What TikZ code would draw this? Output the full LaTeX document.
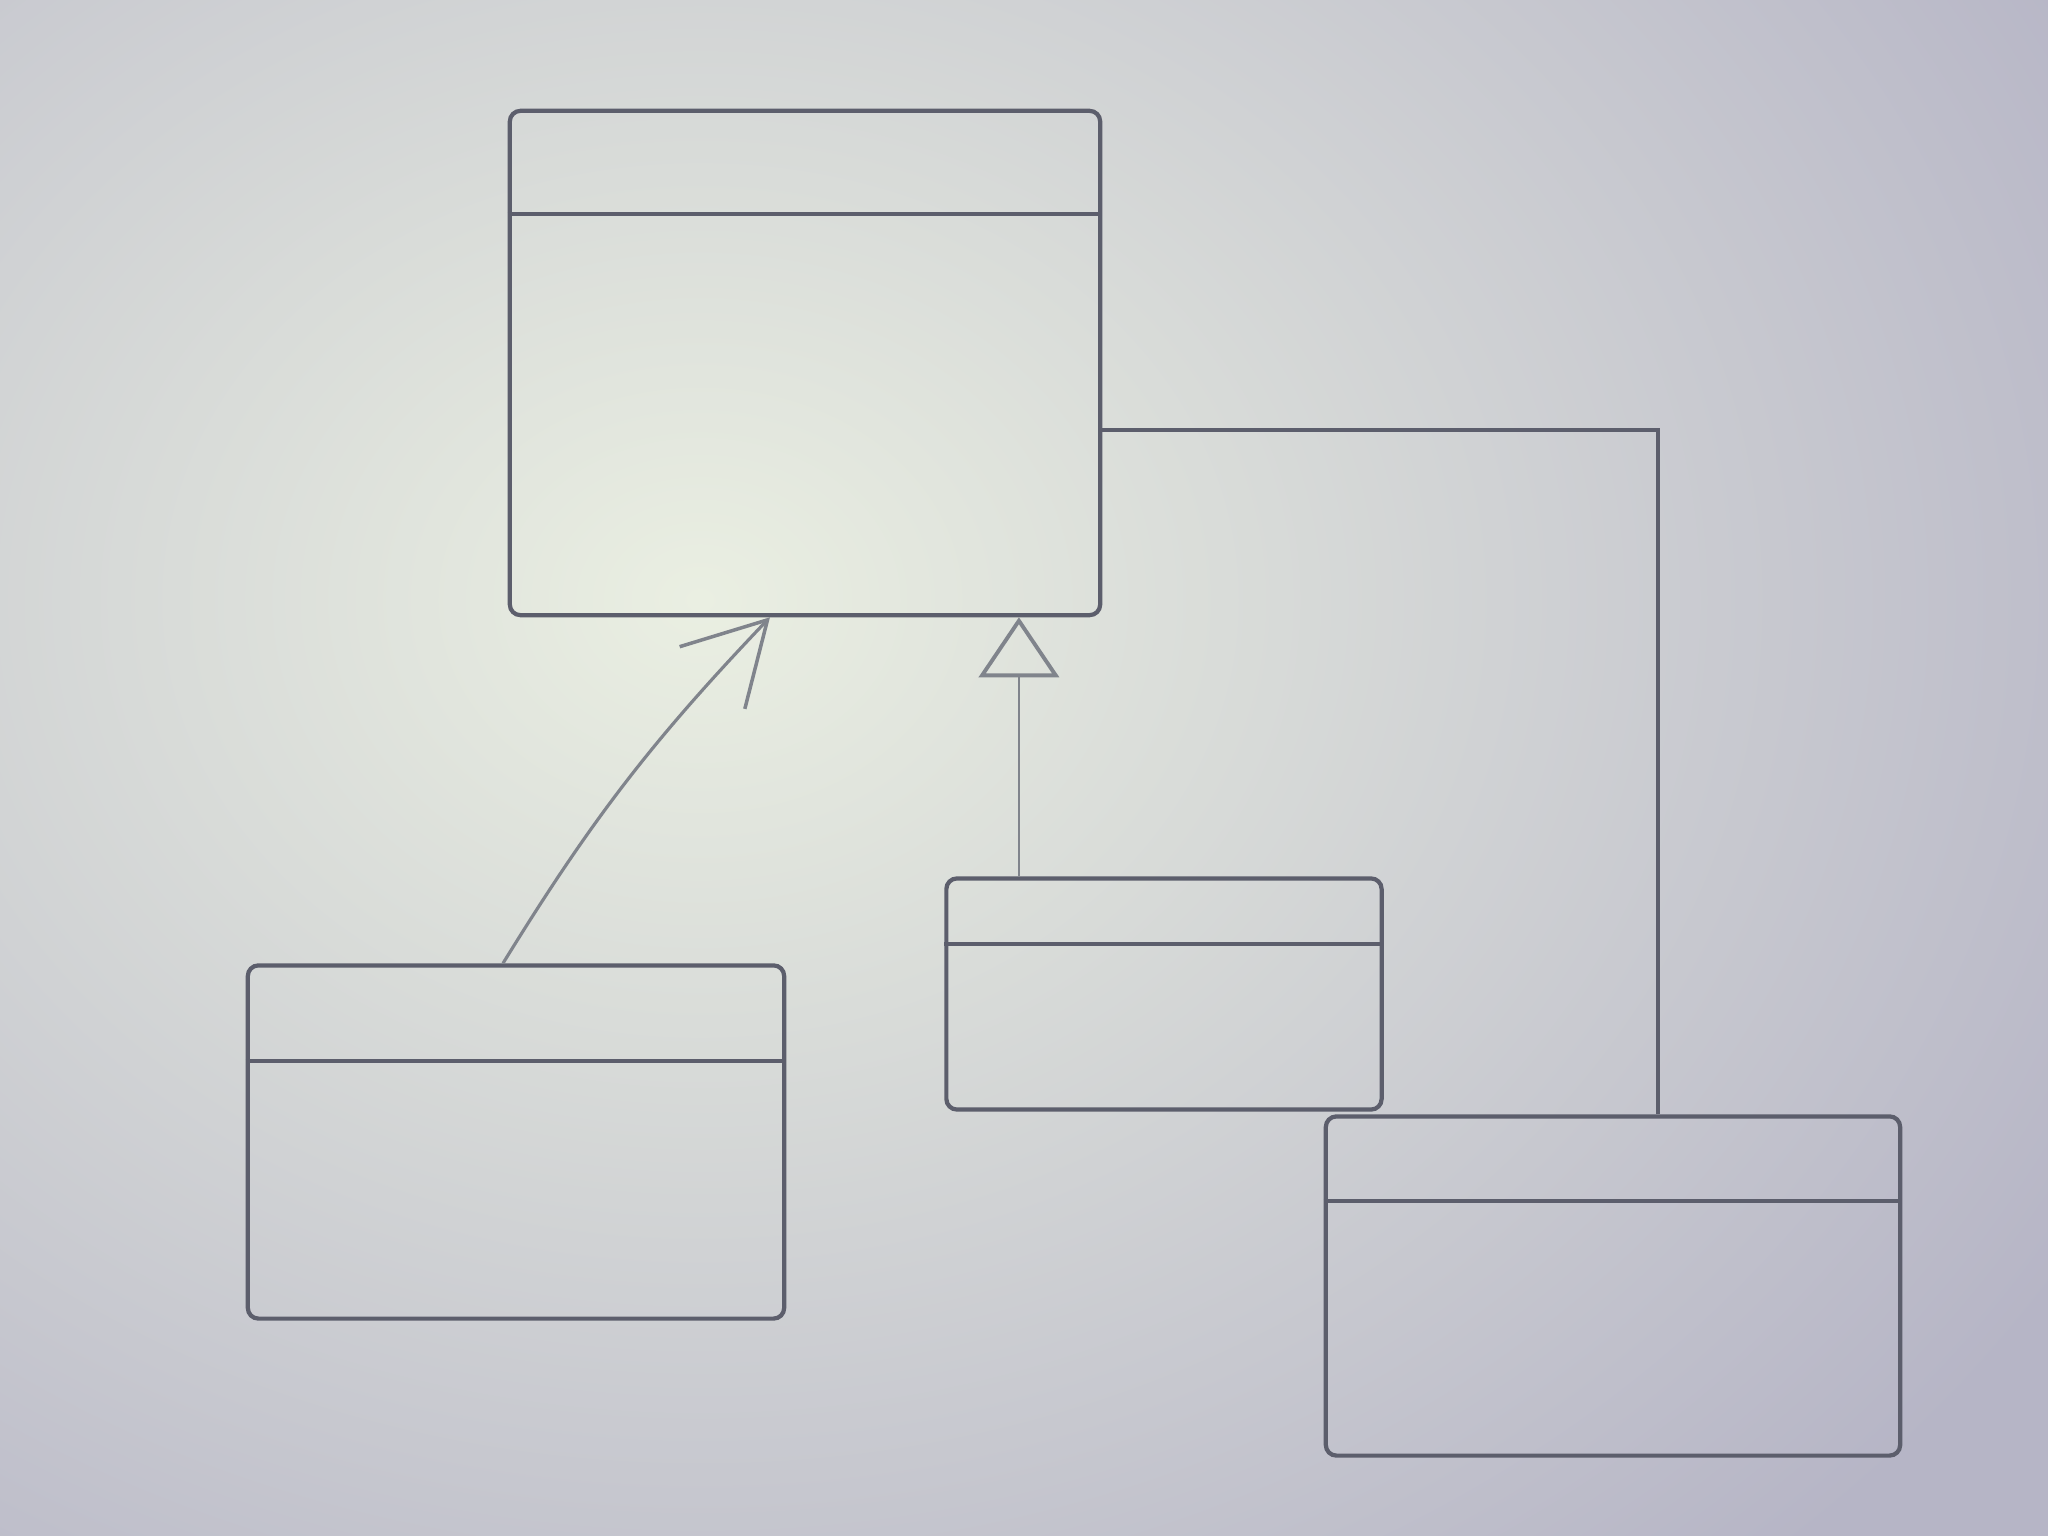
\documentclass[tikz,border=0pt]{standalone}
\usetikzlibrary{arrows.meta}

\definecolor{board}{RGB}{234,239,226}
\definecolor{boardedge}{RGB}{182,181,198}
\definecolor{pencil}{RGB}{92,94,108}
\definecolor{lightpencil}{RGB}{128,132,140}

\tikzstyle{class} = [draw=pencil,line width=1.2pt,rounded corners=3pt,inner sep=0pt]
\tikzstyle{divider} = [draw=pencil,line width=1.1pt]
\tikzstyle{assoc} = [draw=lightpencil,line width=0.9pt,-{Straight Barb[length=8mm,width=9mm,line width=1pt]}]
\tikzstyle{inherit} = [draw=lightpencil,line width=0.8pt,-{Triangle[open,length=6mm,width=8mm,line width=1.1pt]}]
\tikzstyle{link} = [draw=pencil,line width=1.2pt]

\begin{document}
\begin{tikzpicture}[x=0.01cm,y=-0.01cm]
\useasboundingbox (0,0) rectangle (2048,1536);
\begin{scope}
  \clip (0,0) rectangle (2048,1536);
  \shade[inner color=board,outer color=boardedge] (-900,-700) rectangle (2300,1900);
\end{scope}

% classes: position/name/width/height/header
\foreach \pos/\name/\w/\h/\d in {{(805,363)/base/5.9/5.04/1.05}, {(516,1142)/user/5.36/3.53/0.98},
                                 {(1164,994)/child/4.35/2.31/0.68}, {(1613,1286)/part/5.74/3.39/0.87}}{
  \node[class,minimum width=\w cm,minimum height=\h cm] (\name) at \pos {};
  \draw[divider] ([yshift=-\d cm]\name.north west) -- ([yshift=-\d cm]\name.north east);
}

\draw[assoc] ([xshift=-0.13cm]user.north) to[bend left=6] ([xshift=-0.35cm]base.south);
\draw[inherit] ([xshift=-1.45cm]child.north) -- ([xshift=-1.45cm]child.north |- base.south);
\draw[link] ([yshift=-0.67cm]base.east) -| ([xshift=0.45cm]part.north);
\end{tikzpicture}
\end{document}
